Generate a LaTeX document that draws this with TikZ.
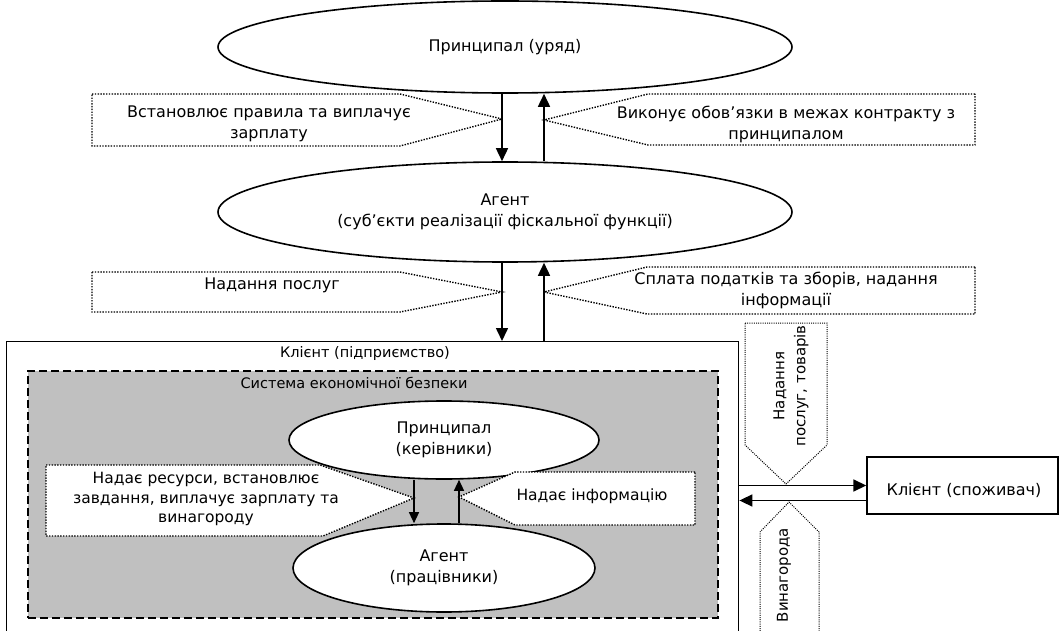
\documentclass[tikz,border=0pt]{standalone}
\usepackage{fontspec}
\setmainfont{DejaVu Sans}
\usetikzlibrary{shapes.geometric,arrows.meta,positioning}
\definecolor{siryi}{RGB}{192,192,192}

\begin{document}
\begin{tikzpicture}[x=1pt,y=-1pt,
    font=\fontsize{16}{21}\selectfont,
    elips/.style={draw, line width=1.6pt, ellipse, fill=white, inner sep=0pt, align=center},
    strilka/.style={line width=1.6pt, -{Triangle[length=13pt,width=12pt]}},
    mstrilka/.style={line width=1.3pt, -{Triangle[length=11pt,width=10pt]}},
    vynoska/.style={dash pattern=on 1.4pt off 1.4pt, line width=1.4pt, fill=white},
    tekst/.style={align=center, inner sep=0pt},
    nazva/.style={font=\fontsize{14.5}{18}\selectfont}]

    \useasboundingbox (0,0) rectangle (1060,631);
    \clip (0,0) rectangle (1060,631);

    % Принципал та агент (держава)
    \node[elips, minimum width=574, minimum height=92] (uryad) at (505,47) {Принципал (уряд)};
    \node[elips, minimum width=574, minimum height=100] (agent) at (505,212) {Агент\\(суб’єкти реалізації фіскальної функції)};

    % Виноски першого рівня
    \draw[vynoska] (92,94) -- (400,94) -- (502,119) -- (400,146) -- (92,146) -- cycle;
    \node[tekst] (pravyla) at (269,124) {Встановлює правила та виплачує\\зарплату};
    \draw[vynoska] (975,94) -- (648,94) -- (544,120) -- (648,145) -- (975,145) -- cycle;
    \node[tekst] (obovyazky) at (786,124) {Виконує обов’язки в межах контракту з\\принципалом};

    \draw[strilka] ([xshift=-3pt]uryad.south) -- ([xshift=-3pt]agent.north);
    \draw[strilka] ([xshift=39pt]agent.north) -- ([xshift=39pt]uryad.south);

    % Клієнт (підприємство)
    \node[draw, line width=1.4pt, minimum width=732, minimum height=330, anchor=north west, inner sep=0pt] (pidpr) at (6,341) {};
    \node[nazva] (pidprnazva) at (365,353) {Клієнт (підприємство)};

    % Виноски другого рівня
    \draw[vynoska] (92,272) -- (400,272) -- (502,292) -- (400,312) -- (92,312) -- cycle;
    \node[tekst] (poslugy) at (272,285) {Надання послуг};
    \draw[vynoska] (975,267) -- (647,267) -- (544,292) -- (647,314) -- (975,314) -- cycle;
    \node[tekst] (podatky) at (786,290) {Сплата податків та зборів, надання\\інформації};

    \coordinate (vnyz) at ([xshift=-3pt]agent.south);
    \coordinate (vgoru) at ([xshift=39pt]agent.south);
    \draw[strilka] (vnyz) -- (vnyz |- pidpr.north);
    \draw[strilka] (vgoru |- pidpr.north) -- (vgoru);

    % Система економічної безпеки
    \node[draw, dash pattern=on 8pt off 4pt, line width=1.6pt, fill=siryi, minimum width=690, minimum height=247, anchor=north west, inner sep=0pt] (systema) at (27,370) {};
    \node[nazva] (systemanazva) at (354,383) {Система економічної безпеки};

    \node[elips, minimum width=310, minimum height=78] (kerivn) at (444,440) {Принципал\\(керівники)};
    \node[elips, minimum width=302, minimum height=88] (pratsivn) at (444,568) {Агент\\(працівники)};

    \draw[vynoska] (46,465) -- (320,465) -- (414,498) -- (323,536) -- (46,536) -- cycle;
    \node[tekst, font=\fontsize{15.5}{19.5}\selectfont] (resursy) at (206,499) {Надає ресурси, встановлює\\завдання, виплачує зарплату та\\винагороду};
    \draw[vynoska] (695,472) -- (515,472) -- (459,497) -- (515,525) -- (695,525) -- cycle;
    \node[tekst, font=\fontsize{15.5}{19.5}\selectfont] (informatsiya) at (592,496) {Надає інформацію};

    \draw[mstrilka] ([xshift=-30pt]kerivn.south) -- ([xshift=-30pt]pratsivn.north);
    \draw[mstrilka] ([xshift=15pt]pratsivn.north) -- ([xshift=15pt]kerivn.south);

    % Клієнт (споживач)
    \node[draw, line width=1.4pt, minimum width=191, minimum height=57] (spozhyvach) at (962.5,485.5) {};
    \node (spozhyvachnazva) at (964,490) {Клієнт (споживач)};
    \coordinate (povern) at ([yshift=-15pt]spozhyvach.west);
    \draw[strilka] (spozhyvach.west -| pidpr.east) -- (spozhyvach.west);
    \draw[strilka] (povern) -- (povern -| pidpr.east);

    \draw[vynoska, line width=1pt, dash pattern=on 1pt off 1.2pt] (745,323) -- (827,323) -- (827,445) -- (786,484) -- (745,445) -- cycle;
    \node[tekst, rotate=90, font=\fontsize{15}{21}\selectfont] (tovary) at (791,386) {Надання\\послуг, товарів};
    \draw[vynoska, line width=1pt, dash pattern=on 1pt off 1.2pt, fill=none] (760,640) -- (760,532) -- (789,502) -- (819,532) -- (819,640);
    \node[tekst, rotate=90, font=\fontsize{15}{21}\selectfont] (vynagoroda) at (784,575) {Винагорода};
\end{tikzpicture}
\end{document}
